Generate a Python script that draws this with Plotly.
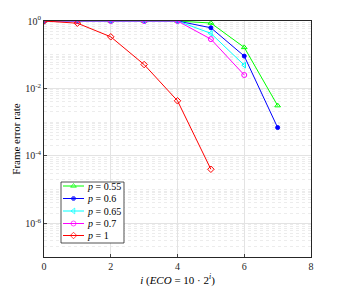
import plotly.graph_objects as go

x_vals = [0, 1, 2, 3, 4, 5, 6, 7]
fer_055 = [1, 1, 1, 1, 1, 0.87, 0.165, 0.0031]
fer_060 = [1, 1, 1, 1, 1, 0.63, 0.091, 0.00069]
fer_065 = [1, 1, 1, 1, 1, 0.43, 0.049]
fer_070 = [1, 1, 1, 1, 1, 0.29, 0.025]
fer_100 = [1, 0.86, 0.34, 0.051, 0.0043, 0.00004]

legend_labels = ["<i>p</i> = 0.55", "<i>p</i> = 0.6", "<i>p</i> = 0.65", "<i>p</i> = 0.7", "<i>p</i> = 1"]
colors = ["#00ff00", "#0000ff", "#00ffff", "#ff00ff", "#ff0000"]
symbols = ["triangle-up-open", "circle", "triangle-left-open", "circle-open", "diamond-open"]
series_values = [fer_055, fer_060, fer_065, fer_070, fer_100]

font_family = "Liberation Serif"

fig = go.Figure()
for name, ys, col, sym in zip(legend_labels, series_values, colors, symbols):
    fig.add_trace(go.Scatter(
        x=x_vals[:len(ys)], y=ys, name=name, mode="lines+markers",
        line=dict(color=col, width=1),
        marker=dict(symbol=sym, size=5 if sym != "circle" else 4, color=col,
                    line=dict(color=col, width=1)),
        showlegend=False,
    ))

# compact legend (MATLAB style) drawn on an overlay axis spanning [0,1] x [0,1]
bx0, bx1, by0, by1 = 0.0637, 0.2996, 0.0593, 0.3178
item_y = [0.3008, 0.2479, 0.1949, 0.1419, 0.0911]
lx0, lx1, mx, tx = 0.0712, 0.1498, 0.1105, 0.1554

fig.add_trace(go.Scatter(
    x=[bx0, bx1, bx1, bx0, bx0], y=[by0, by0, by1, by1, by0],
    xaxis="x2", yaxis="y2", mode="lines", fill="toself", fillcolor="white",
    line=dict(color="#262626", width=0.8), showlegend=False, hoverinfo="skip",
))
for yy, name, col, sym in zip(item_y, legend_labels, colors, symbols):
    fig.add_trace(go.Scatter(
        x=[lx0, mx, lx1], y=[yy, yy, yy], xaxis="x2", yaxis="y2",
        mode="lines+markers",
        line=dict(color=col, width=1),
        marker=dict(symbol=[sym, sym, sym], size=[0, 5 if sym != "circle" else 4, 0],
                    color=col, line=dict(color=col, width=1)),
        showlegend=False, hoverinfo="skip", cliponaxis=False,
    ))
    fig.add_annotation(xref="x domain", yref="y domain", x=tx, y=yy,
                       text=name, showarrow=False, xanchor="left", yanchor="middle",
                       font=dict(family=font_family, size=10, color="#000"))

fig.update_layout(
    width=336, height=282,
    margin=dict(l=36, r=33, t=13, b=33),
    paper_bgcolor="white", plot_bgcolor="white",
    font=dict(family=font_family, size=10, color="#262626"),
    showlegend=False,
    xaxis=dict(
        range=[0, 8], tickvals=[0, 2, 4, 6, 8], ticks="inside", ticklen=3,
        showgrid=True, gridcolor="#e3e3e3", gridwidth=1,
        showline=True, linecolor="#262626", linewidth=1, mirror=True,
        zeroline=False, automargin=False,
        title=dict(text="<i>i</i> (<i>ECO</i> = 10 · 2<sup><i>i</i></sup>)", standoff=4,
                   font=dict(size=11, family=font_family, color="#000")),
        tickfont=dict(size=10, family=font_family),
    ),
    yaxis=dict(
        type="log", range=[-7, 0],
        tickvals=[1, 1e-2, 1e-4, 1e-6],
        ticktext=["10<sup>0</sup>", "10<sup>-2</sup>", "10<sup>-4</sup>", "10<sup>-6</sup>"],
        ticks="inside", ticklen=3,
        showgrid=True, gridcolor="#e3e3e3", gridwidth=1,
        minor=dict(showgrid=True, gridcolor="#ececec", griddash="dot", dtick="D1", ticks=""),
        showline=True, linecolor="#262626", linewidth=1, mirror=True,
        zeroline=False, automargin=False,
        title=dict(text="Frame error rate", standoff=2,
                   font=dict(size=11, family=font_family, color="#000")),
        tickfont=dict(size=10, family=font_family),
    ),
    xaxis2=dict(overlaying="x", range=[0, 1], visible=False, fixedrange=True),
    yaxis2=dict(overlaying="y", range=[0, 1], visible=False, fixedrange=True),
)

fig.write_html("out.html")
